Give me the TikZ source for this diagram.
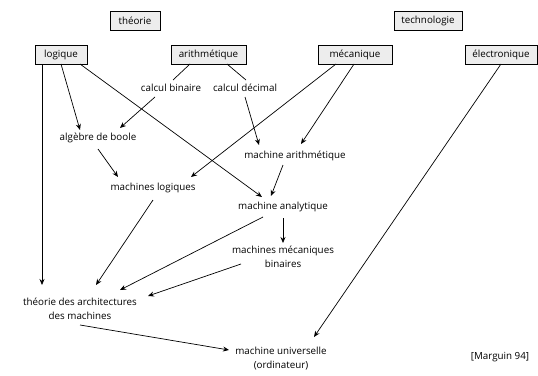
\documentclass[tikz,border=0pt]{standalone}
\usepackage{fontspec}
\setmainfont{Open Sans}
\usetikzlibrary{shadows,arrows.meta}
\begin{document}
\begin{tikzpicture}[x=1pt,y=-1pt,inner sep=0pt,outer sep=0pt,line width=0.7pt,
>={Stealth[length=6pt,width=5pt]},
font=\fontsize{9.8}{14}\selectfont,
boite/.style={draw,rectangle,fill=black!7,inner xsep=4pt,minimum height=19pt,
  line width=0.6pt,
  drop shadow={shadow xshift=0.7pt,shadow yshift=-0.7pt,fill=black,opacity=1}},
texte/.style={inner sep=2pt,align=center}]
\useasboundingbox (0,0) rectangle (538,375);
% domaines
\draw (135,21) node[boite,minimum width=50pt] (theorie) {théorie};
\draw (428,21) node[boite,minimum width=68pt] (techno) {technologie};
\draw (61,54.5) node[boite,minimum width=52pt] (logique) {logique};
\draw (208.5,54.5) node[boite,minimum width=75pt] (arith) {arithmétique};
\draw (355,54.5) node[boite,minimum width=74pt] (meca) {mécanique};
\draw (501,54.5) node[boite,minimum width=72pt] (elec) {électronique};
% notions
\draw (171,88) node[texte] (binaire) {calcul binaire};
\draw (245,88) node[texte] (decimal) {calcul décimal};
\draw (98,138) node[texte] (boole) {algèbre de boole};
\draw (295,156) node[texte] (march) {machine arithmétique};
\draw (153,188) node[texte] (mlog) {machines logiques};
\draw (283,207) node[texte] (analyt) {machine analytique};
\draw (283,257) node[texte] (mecbin) {machines mécaniques\\binaires};
\draw (80,309) node[texte] (archi) {théorie des architectures\\des machines};
\draw (281,359) node[texte] (univ) {machine universelle\\(ordinateur)};
\draw (500,357) node[texte] (source) {[Marguin 94]};
% liens
\draw[->] ([xshift=-19pt]logique.south) -- ([xshift=-38pt,yshift=24pt]archi.center);
\draw[->] (logique.south) -- ([xshift=-18pt,yshift=8pt]boole.center);
\draw[->] ([xshift=19pt]logique.south) -- ([xshift=-21pt,yshift=10pt]analyt.center);
\draw ([xshift=-18.5pt]arith.south) -- ([xshift=2pt,yshift=8pt]binaire.center);
\draw ([xshift=18.5pt]arith.south) -- ([xshift=1pt,yshift=8pt]decimal.center);
\draw[->] ([xshift=-16pt,yshift=-9pt]binaire.center) -- ([xshift=22pt,yshift=10pt]boole.center);
\draw[->] ([yshift=-9pt]decimal.center) -- ([xshift=-36pt,yshift=11pt]march.center);
\draw[->] ([xshift=-1pt]meca.south) -- ([xshift=6pt,yshift=12pt]march.center);
\draw[->] ([xshift=-19pt]meca.south) -- ([xshift=38pt,yshift=11pt]mlog.center);
\draw[->] ([yshift=-11pt]boole.center) -- ([xshift=-35pt,yshift=11pt]mlog.center);
\draw[->] ([xshift=-12pt,yshift=-9pt]march.center) -- ([xshift=-12pt,yshift=11pt]analyt.center);
\draw[->] ([yshift=-11pt]analyt.center) -- ([yshift=14pt]mecbin.center);
\draw[->] ([xshift=-20pt,yshift=-10pt]analyt.center) -- ([xshift=40pt,yshift=19pt]archi.center);
\draw[->] ([yshift=-12pt]mlog.center) -- ([xshift=16pt,yshift=24pt]archi.center);
\draw[->] ([xshift=-42pt,yshift=-7pt]mecbin.center) -- ([xshift=68pt,yshift=13pt]archi.center);
\draw[->] ([yshift=-16pt]archi.center) -- ([xshift=-52pt,yshift=9pt]univ.center);
\draw[->] (elec.south) -- ([xshift=33pt,yshift=22pt]univ.center);
\end{tikzpicture}
\end{document}
